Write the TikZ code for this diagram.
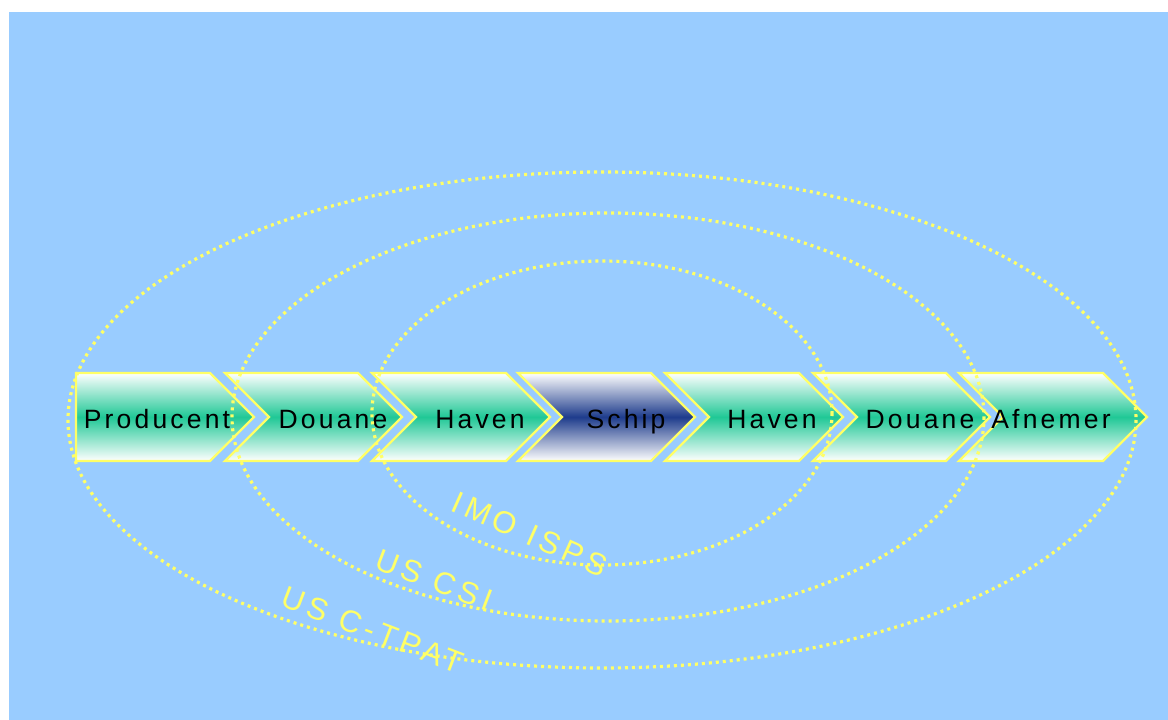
\documentclass[tikz,border=0pt]{standalone}
\usepackage{fontspec}
\setmainfont{Liberation Sans}
\newfontfamily\chevfont[LetterSpace=12]{Liberation Sans}
\newfontfamily\labfont[LetterSpace=15]{Liberation Sans}
\definecolor{bgblue}{RGB}{153,204,255}
\definecolor{lineyel}{RGB}{255,255,102}
\definecolor{chgreen}{RGB}{32,200,150}
\definecolor{chblue}{RGB}{30,60,140}
\tikzset{
  chev/.style={draw=lineyel, line width=2.4pt, line join=miter, shading=axis, top color=white, bottom color=white, middle color=chgreen},
  chevdark/.style={chev, middle color=chblue},
  chevtext/.style={anchor=base, inner sep=0pt, font=\chevfont\fontsize{26.5}{30}\selectfont, text=black},
  ring/.style={draw=lineyel, line width=3.2pt, dash pattern=on 3pt off 4pt},
  ringlabel/.style={inner sep=0pt, font=\labfont\fontsize{31}{34}\selectfont, text=lineyel}
}
\begin{document}
\begin{tikzpicture}[x=1pt,y=-1pt]
\useasboundingbox (0,0) rectangle (1168,720);
\fill[white] (0,0) rectangle (1168,720);
\fill[bgblue] (9,12) rectangle (1168,720);
% chevrons
\path[chev] (76,373) -- (210,373) -- (254,417) -- (210,461) -- (76,461) -- cycle;
\path[chev] (225,373) -- (358,373) -- (402,417) -- (358,461) -- (225,461) -- (269,417) -- cycle;
\path[chev] (372,373) -- (506,373) -- (550,417) -- (506,461) -- (372,461) -- (416,417) -- cycle;
\path[chevdark] (518,373) -- (651,373) -- (695,417) -- (651,461) -- (518,461) -- (562,417) -- cycle;
\path[chev] (665,373) -- (799,373) -- (843,417) -- (799,461) -- (665,461) -- (709,417) -- cycle;
\path[chev] (813,373) -- (946,373) -- (990,417) -- (946,461) -- (813,461) -- (857,417) -- cycle;
\path[chev] (959,373) -- (1103,373) -- (1147,417) -- (1103,461) -- (959,461) -- (1003,417) -- cycle;
% chevron texts
\node[chevtext] (producent) at (157,428) {Producent};
\node[chevtext] (douane1) at (333,428) {Douane};
\node[chevtext] (haven1) at (480,428) {Haven};
\node[chevtext] (schip) at (626,428) {Schip};
\node[chevtext] (haven2) at (772,428) {Haven};
\node[chevtext] (douane2) at (920,428) {Douane};
\node[chevtext] (afnemer) at (1051,428) {Afnemer};
% rings
\draw[ring] (602,420) ellipse [x radius=534, y radius=248];
\draw[ring] (608,417) ellipse [x radius=376, y radius=204];
\draw[ring] (602,413) ellipse [x radius=230, y radius=152];
% ring labels
\node[ringlabel, rotate=-24] (imo) at (530,534) {IMO ISPS};
\node[ringlabel, rotate=-21] (csi) at (434,580) {US CSI};
\node[ringlabel, rotate=-21] (ctpat) at (373,630) {US C-TPAT};
\end{tikzpicture}
\end{document}
